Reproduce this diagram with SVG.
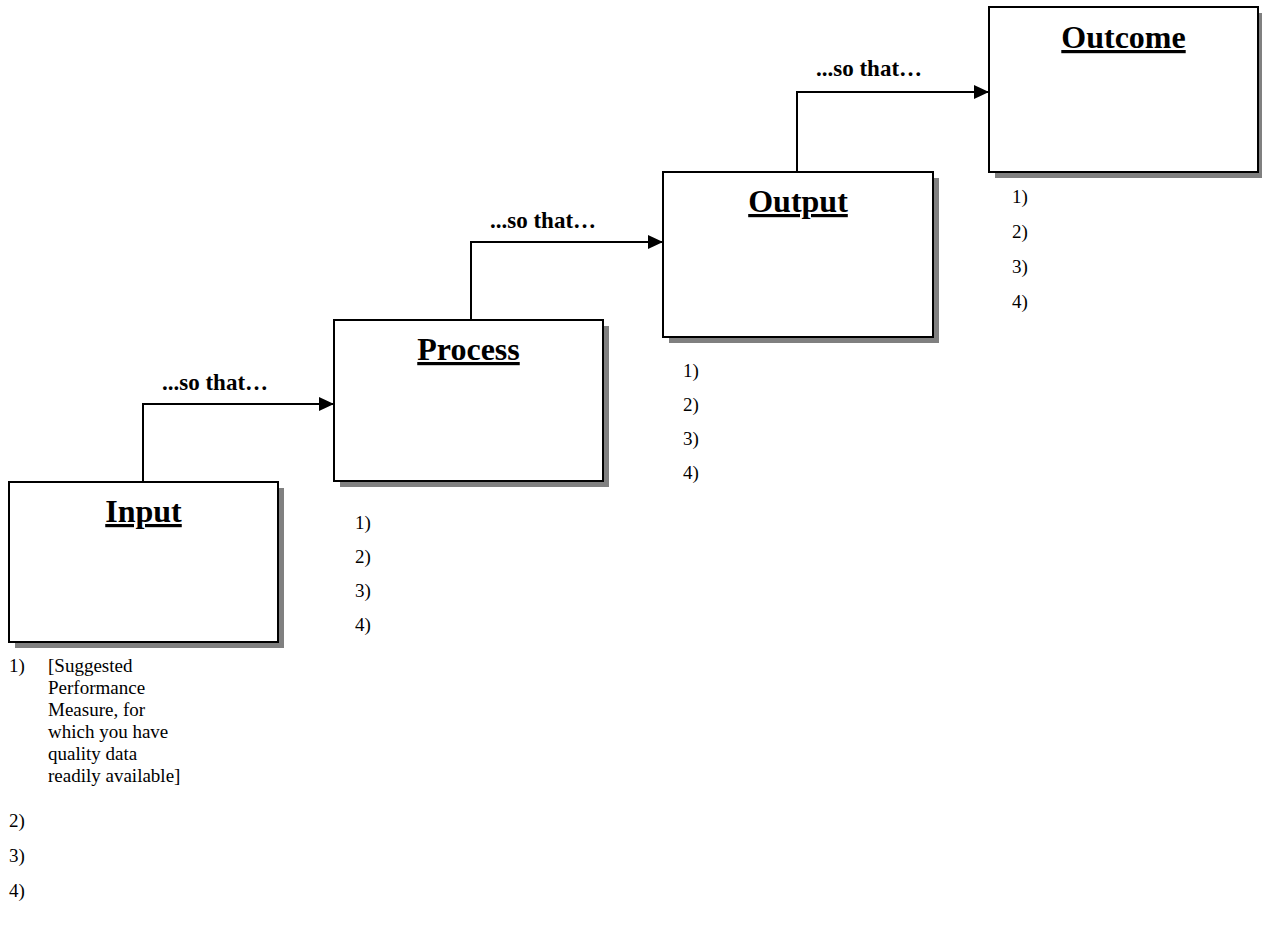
<svg xmlns="http://www.w3.org/2000/svg" width="1262" height="926" viewBox="0 0 1262 926">
<defs>
<marker id="arr" markerUnits="userSpaceOnUse" markerWidth="16" markerHeight="16" refX="15" refY="7" orient="auto">
<path d="M0,0 L15,7 L0,14 Z" fill="#000"/>
</marker>
<style>
.box{fill:#fff;stroke:#000;stroke-width:2}
.shadow{fill:#808080}
.title{font-family:"Liberation Serif",serif;font-weight:bold;font-size:32px;text-anchor:middle;text-decoration:underline;text-decoration-thickness:3px}
.lbl{font-family:"Liberation Serif",serif;font-weight:bold;font-size:23px}
.li{font-family:"Liberation Serif",serif;font-size:19px}
.conn{fill:none;stroke:#000;stroke-width:2}
</style>
</defs>
<rect width="1262" height="926" fill="#fff"/>
<g id="connectors">
<path class="conn" d="M143,482 V404 H334" marker-end="url(#arr)"/>
<path class="conn" d="M471,320 V242 H663" marker-end="url(#arr)"/>
<path class="conn" d="M797,172 V92 H989" marker-end="url(#arr)"/>
<text class="lbl" x="162" y="390">...so that…</text>
<text class="lbl" x="490" y="228">...so that…</text>
<text class="lbl" x="816" y="76">...so that…</text>
</g>
<g id="input">
<rect class="shadow" x="15" y="488" width="269" height="160"/>
<rect class="box" x="9" y="482" width="269" height="160"/>
<text class="title" x="143.5" y="522">Input</text>
<text class="li" x="9" y="672">1)</text>
<text class="li" x="48" y="672">[Suggested</text>
<text class="li" x="48" y="694">Performance</text>
<text class="li" x="48" y="716">Measure, for</text>
<text class="li" x="48" y="738">which you have</text>
<text class="li" x="48" y="760">quality data</text>
<text class="li" x="48" y="782">readily available]</text>
<text class="li" x="9" y="827">2)</text>
<text class="li" x="9" y="862">3)</text>
<text class="li" x="9" y="897">4)</text>
</g>
<g id="process">
<rect class="shadow" x="340" y="326" width="269" height="161"/>
<rect class="box" x="334" y="320" width="269" height="161"/>
<text class="title" x="468.5" y="360">Process</text>
<text class="li" x="355" y="529">1)</text>
<text class="li" x="355" y="563">2)</text>
<text class="li" x="355" y="597">3)</text>
<text class="li" x="355" y="631">4)</text>
</g>
<g id="output">
<rect class="shadow" x="669" y="178" width="270" height="165"/>
<rect class="box" x="663" y="172" width="270" height="165"/>
<text class="title" x="798" y="212">Output</text>
<text class="li" x="683" y="377">1)</text>
<text class="li" x="683" y="411">2)</text>
<text class="li" x="683" y="445">3)</text>
<text class="li" x="683" y="479">4)</text>
</g>
<g id="outcome">
<rect class="shadow" x="995" y="13" width="269" height="165"/>
<rect class="box" x="989" y="7" width="269" height="165"/>
<text class="title" x="1123.5" y="48">Outcome</text>
<text class="li" x="1012" y="203">1)</text>
<text class="li" x="1012" y="238">2)</text>
<text class="li" x="1012" y="273">3)</text>
<text class="li" x="1012" y="308">4)</text>
</g>
</svg>
